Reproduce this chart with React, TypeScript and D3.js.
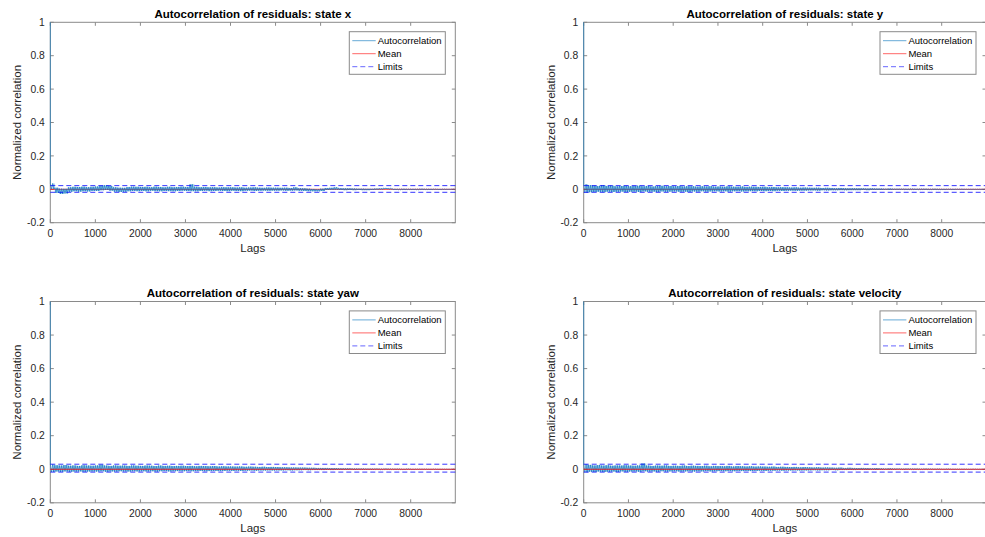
import React from "react";
import * as d3 from "d3";

const W = 985;
const H = 537;

const titles = [
  "Autocorrelation of residuals: state x",
  "Autocorrelation of residuals: state y",
  "Autocorrelation of residuals: state yaw",
  "Autocorrelation of residuals: state velocity",
];

const xTicks = [0, 1000, 2000, 3000, 4000, 5000, 6000, 7000, 8000];
const yTicks = [-0.2, 0, 0.2, 0.4, 0.6, 0.8, 1];
const lagMax = 8990;
const lagStep = 100;
const acfAtZero = 1;
const acfAtEnd = 0;

// upper / lower envelope of the autocorrelation per 100-lag bin
const hiX = [0.035,0.010,0.004,0.003,0.012,0.015,0.014,0.016,0.013,0.015,
 0.017,0.022,0.025,0.020,0.012,0.010,0.009,0.014,0.016,0.015,
 0.014,0.015,0.013,0.016,0.014,0.012,0.015,0.013,0.014,0.016,
 0.014,0.030,0.015,0.013,0.014,0.012,0.013,0.011,0.013,0.012,
 0.012,0.011,0.012,0.010,0.011,0.012,0.010,0.009,0.011,0.010,
 0.010,0.009,0.010,0.008,0.012,0.007,0.006,0.004,0.002,0.000,
 0.004,0.008,0.009,0.012,0.007,0.006,0.006,0.005,0.004,0.004,
 0.003,0.003,0.005,0.006,0.008,0.006,0.002,0.002,0.003,0.002,
 0.002,0.002,0.003,0.002,0.002,0.002,0.001,0.002,0.001,0.001];
const loX = [0.002,-0.022,-0.028,-0.025,-0.015,-0.012,-0.014,-0.012,-0.013,-0.010,
 -0.010,-0.006,-0.004,-0.008,-0.014,-0.016,-0.015,-0.012,-0.010,-0.011,
 -0.010,-0.012,-0.009,-0.011,-0.012,-0.010,-0.011,-0.012,-0.010,-0.009,
 -0.010,-0.011,-0.012,-0.010,-0.009,-0.011,-0.010,-0.009,-0.010,-0.011,
 -0.009,-0.010,-0.011,-0.009,-0.008,-0.010,-0.009,-0.008,-0.009,-0.008,
 -0.008,-0.007,-0.009,-0.008,-0.007,-0.009,-0.010,-0.011,-0.012,-0.012,
 -0.010,-0.004,-0.003,-0.002,-0.004,-0.005,-0.004,-0.005,-0.004,-0.005,
 -0.005,-0.004,-0.002,-0.001,0.002,0.001,-0.002,-0.003,-0.003,-0.002,
 -0.002,-0.003,-0.002,-0.002,-0.002,-0.001,-0.002,-0.001,-0.001,-0.001];

const hiY = [0.030,0.025,0.022,0.020,0.024,0.020,0.022,0.018,0.020,0.021,
 0.019,0.020,0.022,0.018,0.020,0.017,0.019,0.021,0.018,0.020,
 0.018,0.020,0.017,0.019,0.018,0.016,0.018,0.017,0.019,0.016,
 0.017,0.015,0.018,0.016,0.015,0.017,0.014,0.016,0.015,0.014,
 0.015,0.013,0.014,0.012,0.013,0.012,0.011,0.012,0.010,0.011,
 0.010,0.009,0.010,0.008,0.009,0.008,0.007,0.008,0.007,0.006,
 0.007,0.006,0.006,0.005,0.006,0.005,0.005,0.004,0.005,0.004,
 0.004,0.004,0.003,0.004,0.003,0.003,0.003,0.002,0.003,0.002,
 0.002,0.002,0.002,0.002,0.002,0.001,0.001,0.001,0.001,0.001];
const loY = [-0.020,-0.018,-0.016,-0.015,-0.017,-0.014,-0.016,-0.015,-0.014,-0.016,
 -0.015,-0.014,-0.016,-0.013,-0.015,-0.014,-0.016,-0.013,-0.015,-0.014,
 -0.013,-0.015,-0.014,-0.016,-0.013,-0.014,-0.012,-0.014,-0.013,-0.012,
 -0.013,-0.012,-0.014,-0.012,-0.011,-0.013,-0.012,-0.011,-0.012,-0.010,
 -0.011,-0.010,-0.011,-0.009,-0.010,-0.009,-0.008,-0.009,-0.008,-0.008,
 -0.007,-0.007,-0.008,-0.006,-0.007,-0.006,-0.006,-0.005,-0.006,-0.005,
 -0.005,-0.005,-0.004,-0.005,-0.004,-0.004,-0.004,-0.003,-0.004,-0.003,
 -0.003,-0.003,-0.003,-0.002,-0.003,-0.002,-0.002,-0.002,-0.002,-0.002,
 -0.002,-0.001,-0.002,-0.001,-0.001,-0.001,-0.001,-0.001,-0.001,-0.001];

const hiYaw = [0.028,0.024,0.022,0.025,0.021,0.023,0.020,0.024,0.022,0.021,
 0.023,0.027,0.022,0.020,0.023,0.021,0.022,0.020,0.023,0.021,
 0.020,0.022,0.021,0.019,0.022,0.020,0.021,0.019,0.020,0.021,
 0.019,0.020,0.018,0.020,0.019,0.018,0.019,0.017,0.018,0.017,
 0.017,0.016,0.017,0.015,0.016,0.015,0.014,0.015,0.013,0.014,
 0.013,0.012,0.012,0.011,0.011,0.010,0.010,0.009,0.009,0.008,
 0.008,0.008,0.007,0.007,0.006,0.006,0.006,0.005,0.005,0.005,
 0.004,0.004,0.004,0.003,0.004,0.003,0.003,0.003,0.002,0.003,
 0.002,0.002,0.002,0.002,0.001,0.002,0.001,0.001,0.001,0.001];
const loYaw = [-0.016,-0.014,-0.015,-0.013,-0.015,-0.014,-0.013,-0.015,-0.014,-0.013,
 -0.014,-0.012,-0.015,-0.013,-0.014,-0.012,-0.013,-0.014,-0.012,-0.013,
 -0.012,-0.013,-0.012,-0.014,-0.012,-0.011,-0.013,-0.012,-0.011,-0.012,
 -0.011,-0.012,-0.011,-0.010,-0.012,-0.011,-0.010,-0.011,-0.010,-0.009,
 -0.010,-0.009,-0.010,-0.009,-0.008,-0.009,-0.008,-0.008,-0.007,-0.008,
 -0.007,-0.007,-0.006,-0.007,-0.006,-0.006,-0.005,-0.006,-0.005,-0.005,
 -0.005,-0.004,-0.005,-0.004,-0.004,-0.004,-0.003,-0.004,-0.003,-0.003,
 -0.003,-0.003,-0.002,-0.003,-0.002,-0.002,-0.002,-0.002,-0.002,-0.001,
 -0.002,-0.001,-0.001,-0.001,-0.001,-0.001,-0.001,-0.001,-0.001,-0.001];

const hiVel = [0.030,0.026,0.023,0.025,0.022,0.024,0.021,0.023,0.022,0.024,
 0.022,0.021,0.023,0.035,0.022,0.020,0.022,0.021,0.023,0.020,
 0.021,0.020,0.022,0.019,0.021,0.020,0.019,0.021,0.018,0.020,
 0.019,0.018,0.020,0.017,0.019,0.018,0.017,0.018,0.016,0.017,
 0.016,0.015,0.016,0.014,0.015,0.014,0.013,0.014,0.012,0.013,
 0.012,0.011,0.012,0.010,0.011,0.010,0.009,0.010,0.008,0.009,
 0.008,0.007,0.008,0.007,0.006,0.007,0.006,0.005,0.006,0.005,
 0.005,0.004,0.005,0.004,0.004,0.003,0.004,0.003,0.003,0.003,
 0.002,0.003,0.002,0.002,0.002,0.002,0.001,0.002,0.001,0.001];
const loVel = [-0.018,-0.015,-0.016,-0.014,-0.016,-0.015,-0.014,-0.016,-0.013,-0.015,
 -0.014,-0.013,-0.015,-0.012,-0.014,-0.013,-0.015,-0.012,-0.014,-0.013,
 -0.012,-0.014,-0.013,-0.012,-0.014,-0.012,-0.013,-0.011,-0.013,-0.012,
 -0.011,-0.012,-0.011,-0.012,-0.010,-0.011,-0.010,-0.011,-0.010,-0.009,
 -0.010,-0.009,-0.009,-0.008,-0.009,-0.008,-0.008,-0.007,-0.008,-0.007,
 -0.007,-0.006,-0.007,-0.006,-0.006,-0.005,-0.006,-0.005,-0.005,-0.004,
 -0.005,-0.004,-0.004,-0.004,-0.003,-0.004,-0.003,-0.003,-0.003,-0.003,
 -0.002,-0.003,-0.002,-0.002,-0.002,-0.002,-0.002,-0.001,-0.002,-0.001,
 -0.001,-0.001,-0.001,-0.001,-0.001,-0.001,-0.001,-0.001,-0.001,-0.001];

const highs = [hiX, hiY, hiYaw, hiVel];
const lows = [loX, loY, loYaw, loVel];
const meanValues = [0, 0, 0, 0];
const upperLimits = [0.022, 0.022, 0.03, 0.03];
const lowerLimits = [-0.018, -0.018, -0.017, -0.017];
const legendLabels = ["Autocorrelation", "Mean", "Limits"];

const layouts = [
  { x0: 50.3, x1: 455.3, y0: 22.3, y1: 222.7, meanFirst: true },
  { x0: 583.7, x1: 986, y0: 22.3, y1: 222.7, meanFirst: true },
  { x0: 50.3, x1: 455.3, y0: 301.5, y1: 502.8, meanFirst: false },
  { x0: 583.7, x1: 986, y0: 301.5, y1: 502.8, meanFirst: false },
];

const FONT = "'Liberation Sans', Arial, Helvetica, sans-serif";
const ACF_COLOR = "#0072BD";
const AX = "#262626";
const BOX = "#8a8a8a";

function Panel({ idx }: { idx: number }) {
  const L = layouts[idx];
  const x = d3.scaleLinear().domain([0, lagMax]).range([L.x0, L.x1]);
  const y = d3.scaleLinear().domain([-0.2, 1]).range([L.y1, L.y0]);
  // the recorded envelope of each bin is drawn as a dense hatch between its high and low value
  const pts: [number, number][] = [[0, acfAtZero]];
  const hatch = [0, 25, 50, 75];
  highs[idx].forEach((h, i) => {
    const lo = lows[idx][i];
    hatch.forEach((off, k) => {
      pts.push([i * lagStep + off + 1, k % 2 === 0 ? h : lo]);
    });
  });
  pts.push([lagMax, acfAtEnd]);
  const area = d3
    .area<number>()
    .x((_, i) => x(i * lagStep + 50))
    .y0((_, i) => y(lows[idx][i]))
    .y1((d) => y(d))
    .curve(d3.curveStep);
  const line = d3.line<[number, number]>().x((d) => x(d[0])).y((d) => y(d[1]));
  const clipId = `clip${idx}`;
  const tick = 3.5;
  const meanLine = (
    <line key="mean" x1={x(0)} x2={x(lagMax)} y1={y(meanValues[idx])} y2={y(meanValues[idx])}
      stroke="#ff0000" strokeWidth={0.8} />
  );
  const acf = (
    <g key="acf">
      <path d={area(highs[idx]) || ""} fill={ACF_COLOR} opacity={0.35} />
      <path d={line(pts) || ""} fill="none" stroke={ACF_COLOR} strokeWidth={0.6} />
    </g>
  );
  const limits = [upperLimits[idx], lowerLimits[idx]].map((v, i) => (
    <line key={"lim" + i} x1={x(0)} x2={x(lagMax)} y1={y(v)} y2={y(v)}
      stroke="#0000ff" strokeWidth={0.8} strokeDasharray="5,3" />
  ));
  const lgR = L.x1 - 10;
  const lgL = lgR - 96;
  const lgT = L.y0 + 9.4;
  const midX = (L.x0 + L.x1) / 2;
  return (
    <g>
      <defs>
        <clipPath id={clipId}>
          <rect x={L.x0 - 1} y={L.y0 - 1} width={L.x1 - L.x0 + 2} height={L.y1 - L.y0 + 2} />
        </clipPath>
      </defs>
      <rect x={L.x0} y={L.y0} width={L.x1 - L.x0} height={L.y1 - L.y0} fill="#fff" />
      <rect x={L.x0} y={L.y0} width={L.x1 - L.x0} height={L.y1 - L.y0} fill="none" stroke={BOX} strokeWidth={1} />
      {xTicks.map((t) => (
        <g key={"xt" + t}>
          <line x1={x(t)} x2={x(t)} y1={L.y1} y2={L.y1 - tick} stroke={BOX} />
          <line x1={x(t)} x2={x(t)} y1={L.y0} y2={L.y0 + tick} stroke={BOX} />
          <text x={x(t)} y={L.y1 + 14.3} textAnchor="middle" fontSize={10.3} fill={AX} fontFamily={FONT}>{t}</text>
        </g>
      ))}
      {yTicks.map((t) => (
        <g key={"yt" + t}>
          <line x1={L.x0} x2={L.x0 + tick} y1={y(t)} y2={y(t)} stroke={BOX} />
          <line x1={L.x1} x2={L.x1 - tick} y1={y(t)} y2={y(t)} stroke={BOX} />
          <text x={L.x0 - 5.5} y={y(t) + 3.6} textAnchor="end" fontSize={10.3} fill={AX} fontFamily={FONT}>
            {String(Math.round(t * 10) / 10)}
          </text>
        </g>
      ))}
      <g clipPath={`url(#${clipId})`}>
        {L.meanFirst ? [meanLine, acf] : [acf, meanLine]}
        {limits}
      </g>
      <text x={midX} y={L.y0 - 4.7} textAnchor="middle" fontSize={11.5} fontWeight="bold" fill="#000" fontFamily={FONT}>
        {titles[idx]}
      </text>
      <text x={midX} y={L.y1 + 29} textAnchor="middle" fontSize={11.5} fill={AX} fontFamily={FONT}>Lags</text>
      <text transform={`translate(${L.x0 - 29},${(L.y0 + L.y1) / 2}) rotate(-90)`} textAnchor="middle"
        fontSize={11.5} fill={AX} fontFamily={FONT}>Normalized correlation</text>
      {/* legend */}
      <rect x={lgL} y={lgT} width={96} height={42.6} fill="#fff" stroke={BOX} strokeWidth={1} />
      {legendLabels.map((lab, i) => {
        const cy = lgT + 9 + i * 13;
        const stroke = i === 0 ? ACF_COLOR : i === 1 ? "#ff0000" : "#0000ff";
        return (
          <g key={lab}>
            <line x1={lgL + 3} x2={lgL + 26.4} y1={cy} y2={cy} stroke={stroke} strokeWidth={0.8}
              strokeDasharray={i === 2 ? "5,3" : undefined} opacity={0.75} />
            <text x={lgL + 28.4} y={cy + 3.4} fontSize={9.5} fill="#000" fontFamily={FONT}>{lab}</text>
          </g>
        );
      })}
    </g>
  );
}

export default function App() {
  return (
    <svg width={W} height={H} style={{ position: "absolute", left: 0, top: 0, background: "#fff" }}>
      <rect width={W} height={H} fill="#fff" />
      {[0, 1, 2, 3].map((i) => <Panel key={i} idx={i} />)}
    </svg>
  );
}
